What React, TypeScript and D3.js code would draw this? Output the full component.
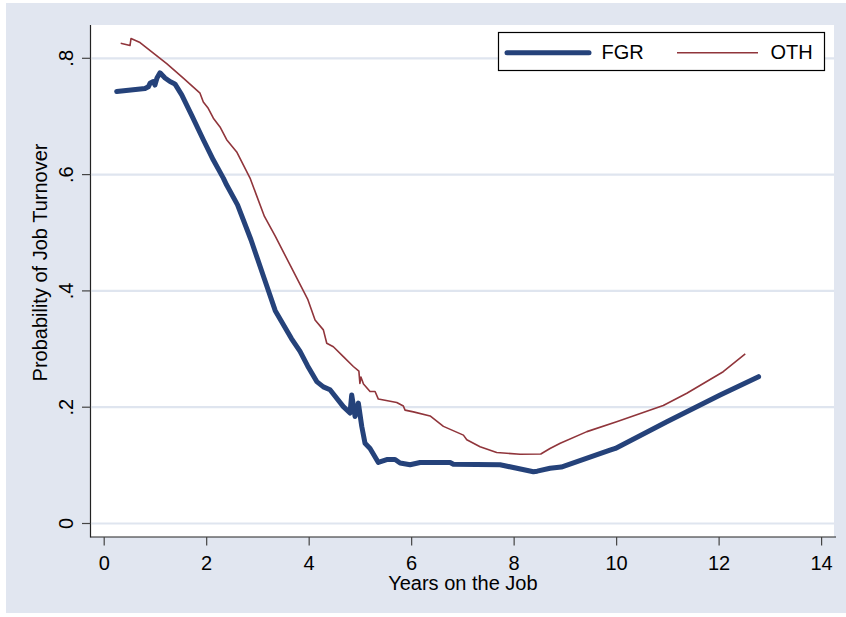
import React from "react";
import * as d3 from "d3";

// Estimated turnover probability by tenure, two groups
const fgrYears = [
  0.244, 0.796, 0.861, 0.894, 0.958, 0.99, 1.03, 1.089, 1.187, 1.284, 1.38, 1.513, 1.708,
  1.934, 2.13, 2.325, 2.39, 2.602, 2.864, 3.128, 3.338, 3.654, 3.822, 3.97, 4.148, 4.277,
  4.407, 4.667, 4.797, 4.83, 4.896, 4.96, 5.026, 5.09, 5.188, 5.35, 5.514, 5.676, 5.774,
  5.969, 6.164, 6.75, 6.814, 7.726, 8.376, 8.45, 8.7, 8.92, 9.87, 9.975, 10.98, 12.02, 12.77,
];
const fgrProb = [
  0.743, 0.748, 0.751, 0.757, 0.76, 0.754, 0.766, 0.775, 0.766, 0.76, 0.756, 0.737, 0.702,
  0.66, 0.625, 0.594, 0.582, 0.548, 0.488, 0.42, 0.366, 0.318, 0.296, 0.271, 0.244, 0.235,
  0.23, 0.201, 0.19, 0.221, 0.184, 0.207, 0.167, 0.138, 0.129, 0.105, 0.11, 0.11, 0.104,
  0.101, 0.105, 0.105, 0.102, 0.101, 0.089, 0.09, 0.095, 0.097, 0.126, 0.129, 0.175, 0.221, 0.2525,
];

const othYears = [
  0.322, 0.504, 0.523, 0.699, 1.22, 1.544, 1.87, 1.934, 2.03, 2.13, 2.26, 2.39, 2.586, 2.846,
  3.127, 3.338, 3.654, 3.97, 4.115, 4.277, 4.343, 4.472, 4.667, 4.862, 4.97, 4.99, 5.01,
  5.06, 5.188, 5.286, 5.35, 5.709, 5.838, 5.871, 6.034, 6.36, 6.62, 7.01, 7.076, 7.335,
  7.66, 8.116, 8.52, 8.7, 8.9, 9.42, 10.0, 10.91, 11.37, 12.08, 12.51,
];
const othProb = [
  0.826, 0.822, 0.834, 0.827, 0.791, 0.766, 0.74, 0.725, 0.714, 0.697, 0.682, 0.66, 0.639, 0.594,
  0.528, 0.494, 0.44, 0.386, 0.35, 0.333, 0.31, 0.304, 0.287, 0.27, 0.262, 0.241, 0.252,
  0.24, 0.227, 0.227, 0.214, 0.208, 0.202, 0.195, 0.192, 0.185, 0.167, 0.152, 0.144, 0.132,
  0.122, 0.119, 0.1195, 0.129, 0.138, 0.158, 0.175, 0.203, 0.224, 0.261, 0.2915,
];

const xTicks = [0, 2, 4, 6, 8, 10, 12, 14];
const yTicks = [0, 0.2, 0.4, 0.6, 0.8];
const yTickLabels = ["0", ".2", ".4", ".6", ".8"];
const seriesNames = ["FGR", "OTH"];

const W = 846;
const H = 617;
const FONT = "'Liberation Sans', Arial, sans-serif";
const NAVY = "#25427a";
const MAROON = "#90353b";
const BG = "#e1e6f0";
const GRID = "#dfe5ef";

export default function App() {
  const x = d3.scaleLinear().domain([0, 14]).range([104.2, 821.6]);
  const y = d3.scaleLinear().domain([0, 0.8]).range([523.5, 58.3]);

  const plotLeft = 90.5;
  const plotRight = 834;
  const plotTop = 25;
  const plotBottom = 537;

  const line = d3
    .line<[number, number]>()
    .x((d) => x(d[0]))
    .y((d) => y(d[1]));

  const fgr = fgrYears.map((v, i) => [v, fgrProb[i]] as [number, number]);
  const oth = othYears.map((v, i) => [v, othProb[i]] as [number, number]);

  return (
    <svg
      width={W}
      height={H}
      style={{ position: "absolute", left: 0, top: 0, display: "block" }}
      fontFamily={FONT}
    >
      <rect x={0} y={0} width={W} height={H} fill="#ffffff" />
      <rect x={6} y={3} width={W - 6} height={610} fill={BG} />
      <rect
        x={plotLeft}
        y={plotTop}
        width={plotRight - plotLeft}
        height={plotBottom - plotTop}
        fill="#ffffff"
      />

      {/* horizontal grid */}
      {yTicks.map((t) => (
        <line
          key={"g" + t}
          x1={plotLeft + 1}
          x2={plotRight}
          y1={y(t)}
          y2={y(t)}
          stroke={GRID}
          strokeWidth={2.2}
        />
      ))}

      {/* series */}
      <path
        d={line(oth) || ""}
        fill="none"
        stroke={MAROON}
        strokeWidth={1.6}
        strokeLinejoin="round"
      />
      <path
        d={line(fgr) || ""}
        fill="none"
        stroke={NAVY}
        strokeWidth={5}
        strokeLinejoin="round"
        strokeLinecap="round"
      />

      {/* axes */}
      <line x1={plotLeft} x2={plotLeft} y1={plotTop} y2={plotBottom + 0.5} stroke="#222" strokeWidth={1.2} />
      <line x1={plotLeft} x2={836} y1={plotBottom} y2={plotBottom} stroke="#222" strokeWidth={1.2} />

      {yTicks.map((t, i) => (
        <g key={"y" + t}>
          <line x1={82} x2={plotLeft} y1={y(t)} y2={y(t)} stroke="#444" strokeWidth={1.2} />
          <text
            transform={`translate(72.5,${y(t)}) rotate(-90)`}
            textAnchor="middle"
            fontSize={20}
            fill="#000"
          >
            {yTickLabels[i]}
          </text>
        </g>
      ))}

      {xTicks.map((t) => (
        <g key={"x" + t}>
          <line x1={x(t)} x2={x(t)} y1={plotBottom} y2={545.5} stroke="#444" strokeWidth={1.2} />
          <text x={x(t)} y={570} textAnchor="middle" fontSize={20} fill="#000">
            {t}
          </text>
        </g>
      ))}

      <text x={x(7)} y={590} textAnchor="middle" fontSize={20} fill="#000">
        Years on the Job
      </text>
      <text
        transform={`translate(47,262.5) rotate(-90)`}
        textAnchor="middle"
        fontSize={20}
        fill="#000"
      >
        Probability of Job Turnover
      </text>

      {/* legend */}
      <rect x={498.5} y={32.5} width={326} height={38} fill="#ffffff" stroke="#000" strokeWidth={1.2} />
      <line x1={507} x2={589} y1={52.7} y2={52.7} stroke={NAVY} strokeWidth={5} strokeLinecap="round" />
      <text x={601.5} y={59} fontSize={20} fill="#000">
        {seriesNames[0]}
      </text>
      <line x1={677} x2={758} y1={52.7} y2={52.7} stroke={MAROON} strokeWidth={1.6} />
      <text x={770.5} y={59} fontSize={20} fill="#000">
        {seriesNames[1]}
      </text>
    </svg>
  );
}
